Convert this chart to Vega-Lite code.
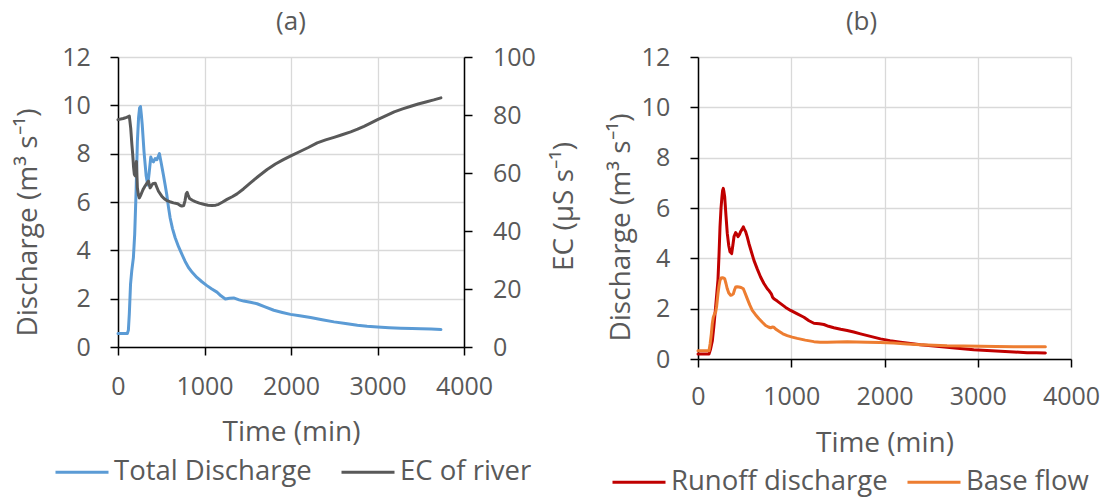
{
  "$schema": "https://vega.github.io/schema/vega-lite/v6.json",
  "padding": {"left": 14, "top": 9, "right": 4, "bottom": 8},
  "autosize": {"type": "pad"},
  "bounds": "flush",
  "spacing": 234,
  "datasets": {
    "total": [
      {"t":0,"q":0.56},{"t":60,"q":0.56},{"t":108,"q":0.56},{"t":120,"q":0.7},{"t":131,"q":1.38},{"t":145,"q":2.6},{"t":159,"q":3.15},{"t":178,"q":3.7},{"t":193,"q":4.66},{"t":209,"q":6.43},{"t":224,"q":8.5},{"t":238,"q":9.5},{"t":250,"q":9.9},{"t":260,"q":9.95},{"t":270,"q":9.6},{"t":280,"q":9.2},{"t":301,"q":8.07},{"t":325,"q":7.1},{"t":344,"q":6.7},{"t":360,"q":7.2},{"t":379,"q":7.86},{"t":395,"q":7.7},{"t":410,"q":7.66},{"t":430,"q":7.8},{"t":450,"q":7.75},{"t":479,"q":8.0},{"t":500,"q":7.6},{"t":526,"q":7.1},{"t":545,"q":6.7},{"t":564,"q":6.3},{"t":583,"q":5.8},{"t":603,"q":5.34},{"t":630,"q":4.9},{"t":661,"q":4.52},{"t":700,"q":4.15},{"t":738,"q":3.84},{"t":775,"q":3.55},{"t":815,"q":3.29},{"t":860,"q":3.08},{"t":912,"q":2.88},{"t":970,"q":2.7},{"t":1028,"q":2.54},{"t":1085,"q":2.4},{"t":1144,"q":2.27},{"t":1190,"q":2.12},{"t":1241,"q":1.99},{"t":1290,"q":2.02},{"t":1337,"q":2.03},{"t":1400,"q":1.95},{"t":1453,"q":1.9},{"t":1530,"q":1.85},{"t":1608,"q":1.79},{"t":1700,"q":1.66},{"t":1801,"q":1.52},{"t":1900,"q":1.43},{"t":1994,"q":1.35},{"t":2100,"q":1.29},{"t":2226,"q":1.22},{"t":2360,"q":1.13},{"t":2497,"q":1.04},{"t":2630,"q":0.97},{"t":2768,"q":0.9},{"t":2880,"q":0.86},{"t":3000,"q":0.83},{"t":3135,"q":0.8},{"t":3270,"q":0.78},{"t":3400,"q":0.77},{"t":3502,"q":0.76},{"t":3620,"q":0.74},{"t":3733,"q":0.72}
    ],
    "ec": [
      {"t":0,"ec":78.4},{"t":60,"ec":78.8},{"t":100,"ec":79.2},{"t":131,"ec":79.6},{"t":147,"ec":75.5},{"t":160,"ec":70},{"t":170,"ec":66.4},{"t":180,"ec":62},{"t":189,"ec":59.5},{"t":200,"ec":59},{"t":208,"ec":62},{"t":213,"ec":64},{"t":218,"ec":60},{"t":224,"ec":54.9},{"t":235,"ec":52.5},{"t":247,"ec":51.4},{"t":260,"ec":52.2},{"t":274,"ec":53.2},{"t":293,"ec":54.5},{"t":313,"ec":55.5},{"t":335,"ec":56.5},{"t":352,"ec":57.2},{"t":362,"ec":56},{"t":371,"ec":54.9},{"t":385,"ec":55.5},{"t":402,"ec":56.3},{"t":430,"ec":56.5},{"t":450,"ec":55},{"t":468,"ec":53.7},{"t":506,"ec":52},{"t":535,"ec":51.1},{"t":564,"ec":50.5},{"t":600,"ec":50.1},{"t":641,"ec":49.7},{"t":690,"ec":49.4},{"t":720,"ec":48.8},{"t":738,"ec":48.6},{"t":760,"ec":48.8},{"t":775,"ec":50.5},{"t":788,"ec":52.8},{"t":800,"ec":53.3},{"t":812,"ec":52.3},{"t":827,"ec":51.2},{"t":860,"ec":50.6},{"t":893,"ec":50.1},{"t":940,"ec":49.6},{"t":989,"ec":49.2},{"t":1040,"ec":48.9},{"t":1086,"ec":48.8},{"t":1130,"ec":48.9},{"t":1163,"ec":49.2},{"t":1210,"ec":50},{"t":1260,"ec":50.9},{"t":1320,"ec":51.8},{"t":1376,"ec":52.8},{"t":1450,"ec":54.5},{"t":1531,"ec":56.6},{"t":1620,"ec":58.8},{"t":1724,"ec":61.2},{"t":1820,"ec":63.1},{"t":1917,"ec":64.7},{"t":2010,"ec":66.1},{"t":2110,"ec":67.5},{"t":2200,"ec":68.8},{"t":2303,"ec":70.4},{"t":2400,"ec":71.4},{"t":2497,"ec":72.3},{"t":2590,"ec":73.2},{"t":2690,"ec":74.2},{"t":2770,"ec":75.1},{"t":2844,"ec":76.1},{"t":2920,"ec":77.2},{"t":3000,"ec":78.4},{"t":3100,"ec":79.8},{"t":3193,"ec":81.1},{"t":3290,"ec":82.1},{"t":3386,"ec":83},{"t":3470,"ec":83.8},{"t":3559,"ec":84.5},{"t":3650,"ec":85.2},{"t":3733,"ec":85.9}
    ],
    "runoff": [
      {"t":0,"q":0.2},{"t":60,"q":0.2},{"t":118,"q":0.2},{"t":135,"q":0.4},{"t":154,"q":0.73},{"t":170,"q":1.3},{"t":189,"q":2.06},{"t":214,"q":3.13},{"t":226,"q":4.2},{"t":236,"q":5.25},{"t":247,"q":6.0},{"t":257,"q":6.45},{"t":264,"q":6.7},{"t":271,"q":6.78},{"t":278,"q":6.65},{"t":286,"q":6.45},{"t":300,"q":5.7},{"t":314,"q":4.99},{"t":330,"q":4.5},{"t":343,"q":4.26},{"t":361,"q":4.19},{"t":373,"q":4.5},{"t":386,"q":4.86},{"t":404,"q":5.02},{"t":417,"q":4.95},{"t":429,"q":4.86},{"t":445,"q":4.95},{"t":457,"q":5.06},{"t":472,"q":5.15},{"t":486,"q":5.25},{"t":498,"q":5.15},{"t":511,"q":5.06},{"t":528,"q":4.85},{"t":546,"q":4.59},{"t":573,"q":4.25},{"t":600,"q":3.92},{"t":635,"q":3.58},{"t":671,"q":3.26},{"t":707,"q":3.0},{"t":743,"q":2.79},{"t":765,"q":2.7},{"t":786,"q":2.59},{"t":800,"q":2.45},{"t":814,"q":2.39},{"t":850,"q":2.3},{"t":886,"q":2.2},{"t":940,"q":2.05},{"t":993,"q":1.93},{"t":1060,"q":1.8},{"t":1136,"q":1.66},{"t":1190,"q":1.52},{"t":1243,"q":1.42},{"t":1300,"q":1.4},{"t":1350,"q":1.37},{"t":1400,"q":1.3},{"t":1457,"q":1.24},{"t":1530,"q":1.18},{"t":1600,"q":1.13},{"t":1670,"q":1.07},{"t":1743,"q":1.0},{"t":1850,"q":0.9},{"t":1957,"q":0.8},{"t":2060,"q":0.73},{"t":2171,"q":0.67},{"t":2280,"q":0.62},{"t":2386,"q":0.57},{"t":2530,"q":0.52},{"t":2671,"q":0.47},{"t":2810,"q":0.42},{"t":2957,"q":0.37},{"t":3100,"q":0.34},{"t":3243,"q":0.31},{"t":3390,"q":0.28},{"t":3529,"q":0.25},{"t":3625,"q":0.245},{"t":3725,"q":0.24}
    ],
    "base": [
      {"t":0,"q":0.33},{"t":60,"q":0.33},{"t":118,"q":0.33},{"t":130,"q":0.6},{"t":143,"q":1.0},{"t":153,"q":1.4},{"t":164,"q":1.66},{"t":178,"q":1.8},{"t":189,"q":1.86},{"t":200,"q":2.1},{"t":214,"q":2.59},{"t":225,"q":2.9},{"t":236,"q":3.13},{"t":248,"q":3.22},{"t":261,"q":3.23},{"t":274,"q":3.22},{"t":286,"q":3.19},{"t":300,"q":3.0},{"t":314,"q":2.79},{"t":330,"q":2.62},{"t":350,"q":2.53},{"t":365,"q":2.55},{"t":379,"q":2.59},{"t":392,"q":2.75},{"t":404,"q":2.86},{"t":420,"q":2.87},{"t":439,"q":2.86},{"t":462,"q":2.84},{"t":486,"q":2.79},{"t":507,"q":2.6},{"t":529,"q":2.39},{"t":555,"q":2.15},{"t":582,"q":1.93},{"t":617,"q":1.76},{"t":654,"q":1.6},{"t":690,"q":1.46},{"t":725,"q":1.33},{"t":755,"q":1.27},{"t":779,"q":1.24},{"t":795,"q":1.27},{"t":814,"q":1.26},{"t":840,"q":1.17},{"t":868,"q":1.1},{"t":910,"q":1.0},{"t":957,"q":0.93},{"t":1010,"q":0.87},{"t":1064,"q":0.82},{"t":1150,"q":0.75},{"t":1243,"q":0.69},{"t":1310,"q":0.67},{"t":1386,"q":0.67},{"t":1490,"q":0.68},{"t":1600,"q":0.69},{"t":1700,"q":0.68},{"t":1814,"q":0.67},{"t":1950,"q":0.66},{"t":2100,"q":0.64},{"t":2240,"q":0.6},{"t":2386,"q":0.57},{"t":2530,"q":0.55},{"t":2671,"q":0.53},{"t":2850,"q":0.52},{"t":3029,"q":0.51},{"t":3200,"q":0.5},{"t":3386,"q":0.49},{"t":3550,"q":0.49},{"t":3725,"q":0.49}
    ]
  },
  "hconcat": [
    {
      "title": {"text": "(a)", "offset": 10},
      "width": 346,
      "height": 290,
      "layer": [
        {
          "data": {"name": "total"},
          "mark": {"type": "line", "strokeWidth": 3, "strokeJoin": "round", "strokeCap": "round"},
          "encoding": {
            "x": {"field": "t", "type": "quantitative", "scale": {"domain": [0, 4000], "nice": false},
              "axis": {"title": "Time (min)", "values": [0, 1000, 2000, 3000, 4000], "format": "d", "labelPadding": 39.3, "labelBaseline": "alphabetic", "titleY": 93, "titleBaseline": "alphabetic"}},
            "y": {"field": "q", "type": "quantitative", "scale": {"domain": [0, 12], "nice": false},
              "axis": {"title": "Discharge (m³ s⁻¹)", "values": [0, 2, 4, 6, 8, 10, 12], "format": "d", "labelPadding": 19.7, "titleAngle": 270, "titleX": -81.3, "titleY": 165, "titleBaseline": "alphabetic", "titleAlign": "center"}},
            "color": {"datum": "Total Discharge", "type": "nominal",
              "scale": {"domain": ["Total Discharge", "EC of river"], "range": ["#5B9BD5", "#595959"]},
              "legend": {"title": null, "orient": "none", "direction": "horizontal", "legendX": -64, "legendY": 387, "columnPadding": 23}}
          }
        },
        {
          "data": {"name": "ec"},
          "mark": {"type": "line", "strokeWidth": 3, "strokeJoin": "round", "strokeCap": "round"},
          "encoding": {
            "x": {"field": "t", "type": "quantitative"},
            "y": {"field": "ec", "type": "quantitative", "scale": {"domain": [0, 100], "nice": false},
              "axis": {"orient": "right", "title": "EC (µS s⁻¹)", "values": [0, 20, 40, 60, 80, 100], "format": "d", "grid": false, "labelPadding": 20.4, "titleAngle": 270, "titleX": 108.4, "titleY": 149, "titleBaseline": "alphabetic", "titleAlign": "center"}},
            "color": {"datum": "EC of river", "type": "nominal"}
          }
        }
      ],
      "resolve": {"scale": {"y": "independent"}}
    },
    {
      "title": {"text": "(b)", "offset": 10, "dx": -23},
      "width": 373,
      "height": 302,
      "layer": [
        {
          "data": {"name": "runoff"},
          "mark": {"type": "line", "strokeWidth": 3, "strokeJoin": "round", "strokeCap": "round"},
          "encoding": {
            "x": {"field": "t", "type": "quantitative", "scale": {"domain": [0, 4000], "nice": false},
              "axis": {"title": "Time (min)", "values": [0, 1000, 2000, 3000, 4000], "format": "d", "labelPadding": 37.7, "labelBaseline": "alphabetic", "titleY": 92.7, "titleBaseline": "alphabetic"}},
            "y": {"field": "q", "type": "quantitative", "scale": {"domain": [0, 12], "nice": false},
              "axis": {"title": "Discharge (m³ s⁻¹)", "values": [0, 2, 4, 6, 8, 10, 12], "format": "d", "labelPadding": 20.3, "titleAngle": 270, "titleX": -68.6, "titleY": 170, "titleBaseline": "alphabetic", "titleAlign": "center"}},
            "color": {"datum": "Runoff discharge", "type": "nominal",
              "scale": {"domain": ["Runoff discharge", "Base flow"], "range": ["#C00000", "#ED7D31"]},
              "legend": {"title": null, "orient": "none", "direction": "horizontal", "legendX": -87, "legendY": 397, "columnPadding": 13}}
          }
        },
        {
          "data": {"name": "base"},
          "mark": {"type": "line", "strokeWidth": 3, "strokeJoin": "round", "strokeCap": "round"},
          "encoding": {
            "x": {"field": "t", "type": "quantitative"},
            "y": {"field": "q", "type": "quantitative"},
            "color": {"datum": "Base flow", "type": "nominal"}
          }
        }
      ]
    }
  ],
  "resolve": {"scale": {"color": "independent", "x": "independent", "y": "independent"}, "legend": {"color": "independent"}},
  "config": {
    "font": "Open Sans",
    "background": "white",
    "view": {"stroke": null},
    "axis": {
      "labelFont": "Open Sans", "titleFont": "Open Sans",
      "labelColor": "#595959", "titleColor": "#595959",
      "labelFontSize": 25, "titleFontSize": 28, "titleFontWeight": "normal",
      "domainColor": "#000000", "domainWidth": 1.5,
      "tickColor": "#000000", "tickWidth": 1.5, "tickSize": 8,
      "gridColor": "#D9D9D9", "gridWidth": 1.3,
      "labelFlush": false, "labelOverlap": false
    },
    "legend": {
      "labelFont": "Open Sans", "labelFontSize": 27.5, "labelColor": "#595959",
      "symbolType": "stroke", "symbolSize": 2809, "symbolStrokeWidth": 3,
      "labelOffset": 4, "padding": 0, "labelLimit": 400
    },
    "title": {"font": "Open Sans", "fontSize": 26, "fontWeight": "normal", "color": "#595959", "anchor": "middle"}
  }
}
